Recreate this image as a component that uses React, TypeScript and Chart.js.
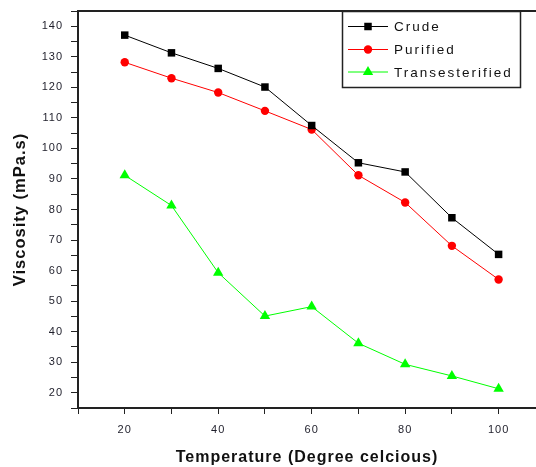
import React, { useEffect, useRef } from 'react';
import { Chart, registerables } from 'chart.js';

Chart.register(...registerables);

const temperatures = [20, 30, 40, 50, 60, 70, 80, 90, 100];
const crude = [137.1, 131.3, 126.2, 120.1, 107.5, 95.3, 92.3, 77.3, 65.3];
const purified = [128.2, 123.0, 118.3, 112.3, 106.2, 91.2, 82.3, 68.1, 57.1];
const transesterified = [91.2, 81.3, 59.3, 45.1, 48.2, 36.2, 29.3, 25.5, 21.3];

const seriesLabels = ['Crude', 'Purified', 'Transesterified'];
const seriesColors = ['#000000', '#ff0000', '#00ff00'];
const seriesMarkers = ['rect', 'circle', 'triangle'];
const seriesRadii = [5.3, 4.2, 6];

const xTickValues = [10, 20, 30, 40, 50, 60, 70, 80, 90, 100];
const xLabelValues = [20, 40, 60, 80, 100];
const yTickValues = [15, 20, 25, 30, 35, 40, 45, 50, 55, 60, 65, 70, 75, 80, 85, 90, 95, 100, 105, 110, 115, 120, 125, 130, 135, 140, 145];
const yLabelValues = [20, 30, 40, 50, 60, 70, 80, 90, 100, 110, 120, 130, 140];

const xTitle = 'Temperature (Degree celcious)';
const yTitle = 'Viscosity (mPa.s)';

const AXIS = '#222222';
const TICK_TEXT = '#1e1e2a';

function drawMarker(ctx: CanvasRenderingContext2D, style: string, x: number, y: number, r: number, color: string) {
  ctx.save();
  ctx.fillStyle = color;
  ctx.beginPath();
  if (style === 'rect') {
    const s = Math.SQRT1_2 * r;
    ctx.rect(x - s, y - s, 2 * s, 2 * s);
  } else if (style === 'circle') {
    ctx.arc(x, y, r, 0, Math.PI * 2);
  } else {
    const w = r * Math.sin(Math.PI / 3);
    ctx.moveTo(x, y - r);
    ctx.lineTo(x + w, y + r / 2);
    ctx.lineTo(x - w, y + r / 2);
    ctx.closePath();
  }
  ctx.fill();
  ctx.restore();
}

const spacingPlugin = {
  id: 'spacing',
  beforeDraw(chart: any) {
    (chart.ctx as any).letterSpacing = '1px';
  },
};

const framePlugin = {
  id: 'frame',
  afterDraw(chart: any) {
    const { ctx, chartArea } = chart;
    ctx.save();
    ctx.strokeStyle = AXIS;
    ctx.lineWidth = 2;
    ctx.beginPath();
    ctx.moveTo(chartArea.left - 1, chartArea.top);
    ctx.lineTo(chartArea.right, chartArea.top);
    ctx.stroke();
    ctx.restore();
  },
};

const legendPlugin = {
  id: 'boxLegend',
  afterDraw(chart: any) {
    const ctx: CanvasRenderingContext2D = chart.ctx;
    const bx = 342, by = 11, bw = 178, bh = 76;
    ctx.save();
    ctx.fillStyle = '#ffffff';
    ctx.fillRect(bx, by, bw, bh);
    ctx.strokeStyle = AXIS;
    ctx.lineWidth = 1.5;
    ctx.strokeRect(bx + 0.5, by + 0.5, bw, bh);
    const rows = [26.5, 49.5, 72];
    chart.data.datasets.forEach((ds: any, i: number) => {
      const y = rows[i];
      ctx.strokeStyle = ds.borderColor;
      ctx.lineWidth = 1;
      ctx.beginPath();
      ctx.moveTo(348, y);
      ctx.lineTo(388, y);
      ctx.stroke();
      drawMarker(ctx, ds.pointStyle, 368, y, ds.pointRadius, ds.borderColor);
      (ctx as any).letterSpacing = '2px';
      ctx.fillStyle = '#111111';
      ctx.font = '13.5px "Liberation Sans", Arial, sans-serif';
      ctx.textBaseline = 'middle';
      ctx.textAlign = 'left';
      ctx.fillText(ds.label, 394, y + 1);
    });
    ctx.restore();
  },
};

export default function App() {
  const canvasRef = useRef<HTMLCanvasElement | null>(null);

  useEffect(() => {
    document.body.style.margin = '0';
    const canvas = canvasRef.current;
    if (!canvas) return;
    const seriesData = [crude, purified, transesterified];
    const chart = new Chart(canvas, {
      type: 'line',
      data: {
        datasets: seriesData.map((vals, i) => ({
          label: seriesLabels[i],
          data: temperatures.map((t, j) => ({ x: t, y: vals[j] })),
          borderColor: seriesColors[i],
          backgroundColor: seriesColors[i],
          borderWidth: 1,
          pointStyle: seriesMarkers[i] as any,
          pointRadius: seriesRadii[i],
          pointBorderWidth: 0,
          pointBackgroundColor: seriesColors[i],
          pointBorderColor: seriesColors[i],
          tension: 0,
        })),
      },
      options: {
        animation: false,
        responsive: false,
        devicePixelRatio: 1,
        layout: { autoPadding: false, padding: { top: 11, right: 0, left: 0, bottom: 0 } },
        plugins: {
          legend: { display: false },
          tooltip: { enabled: false },
        },
        scales: {
          x: {
            type: 'linear',
            min: 10,
            max: 108,
            afterBuildTicks: (scale: any) => {
              scale.ticks = xTickValues.map((v) => ({ value: v }));
            },
            afterFit: (scale: any) => {
              scale.height = 59;
              scale.paddingLeft = 0;
              scale.paddingRight = 0;
            },
            border: { display: true, color: AXIS, width: 2 },
            grid: { display: true, drawOnChartArea: false, drawTicks: true, tickLength: 6, color: AXIS, tickColor: AXIS, lineWidth: 1 },
            ticks: {
              autoSkip: false,
              maxRotation: 0,
              padding: 9,
              color: TICK_TEXT,
              font: { family: '"Liberation Sans", Arial, sans-serif', size: 11 },
              callback: (v: any) => (xLabelValues.includes(Number(v)) ? String(v) : ''),
            },
            title: {
              display: true,
              text: xTitle,
              color: '#111111',
              font: { family: '"Liberation Sans", Arial, sans-serif', size: 16, weight: 'bold' },
              padding: { top: 0, bottom: 0 },
            },
          },
          y: {
            type: 'linear',
            min: 15,
            max: 145,
            afterBuildTicks: (scale: any) => {
              scale.ticks = yTickValues.map((v) => ({ value: v }));
            },
            afterFit: (scale: any) => {
              scale.width = 78;
              scale.paddingTop = 0;
              scale.paddingBottom = 0;
            },
            border: { display: true, color: AXIS, width: 2 },
            grid: { display: true, drawOnChartArea: false, drawTicks: true, tickLength: 7, color: AXIS, tickColor: AXIS, lineWidth: 1 },
            ticks: {
              autoSkip: false,
              padding: 8,
              color: TICK_TEXT,
              font: { family: '"Liberation Sans", Arial, sans-serif', size: 11 },
              callback: (v: any) => (yLabelValues.includes(Number(v)) ? String(v) : ''),
            },
            title: {
              display: true,
              text: yTitle,
              color: '#111111',
              font: { family: '"Liberation Sans", Arial, sans-serif', size: 16.5, weight: 'bold' },
              padding: { top: 11, bottom: 0 },
            },
          },
        },
      },
      plugins: [spacingPlugin, framePlugin, legendPlugin],
    });
    return () => chart.destroy();
  }, []);

  return (
    <div style={{ width: 536, height: 467, background: '#ffffff' }}>
      <canvas ref={canvasRef} width={536} height={467} style={{ display: 'block', width: 536, height: 467 }} />
    </div>
  );
}
